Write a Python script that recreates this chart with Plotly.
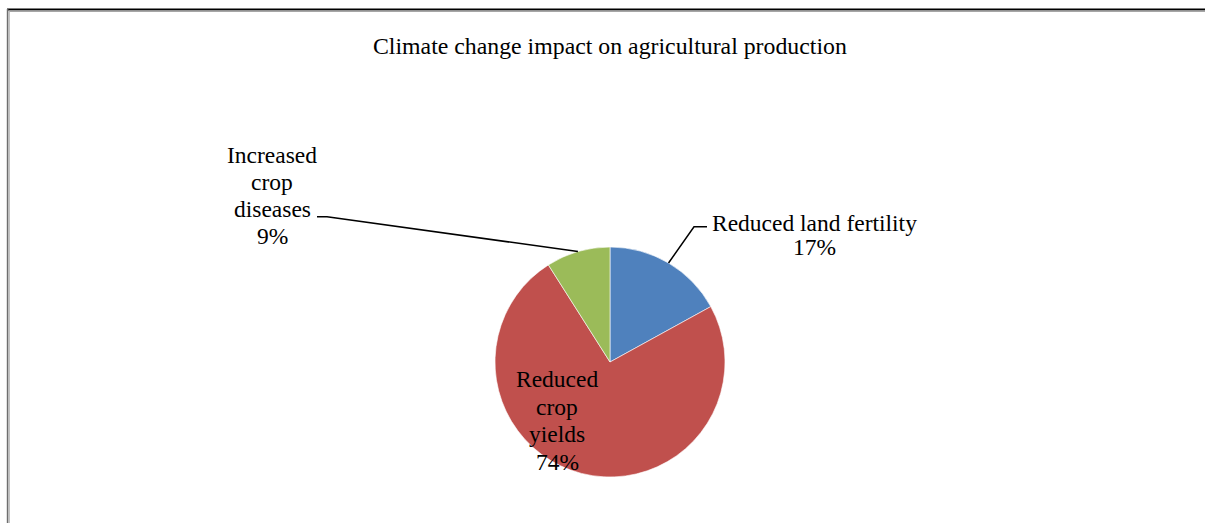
import math
import plotly.graph_objects as go

# Survey shares
categories = ["Reduced land fertility", "Reduced crop yields", "Increased crop diseases"]
shares = [17, 74, 9]
colors = ["#4F81BD", "#C0504D", "#9BBB59"]
# how each data label breaks onto lines
label_lines = [
    ["Reduced land fertility"],
    ["Reduced", "crop", "yields"],
    ["Increased", "crop", "diseases"],
]
title_text = "Climate change impact on agricultural production"

W, H = 1205, 523
CX, CY, R = 610, 362, 115
FONT = "Liberation Serif"


def px(x):
    return x / W


def py(y):
    return 1 - y / H


fig = go.Figure(
    go.Pie(
        labels=categories,
        values=shares,
        sort=False,
        direction="clockwise",
        rotation=0,
        marker=dict(colors=colors, line=dict(color="white", width=0.6)),
        textinfo="none",
        hoverinfo="label+percent",
        showlegend=False,
        domain=dict(x=[px(CX - R), px(CX + R)], y=[py(CY + R), py(CY - R)]),
    )
)

total = sum(shares)
pct = [f"{round(v * 100 / total)}%" for v in shares]

# label placement: (center x, first line y, line step)
placements = [
    (814, 222.5, 24.5),   # outside, right
    (557, 379, 27.7),     # inside the big slice
    (272, 154.5, 27.2),   # outside, left
]
# leader line elbows for outside labels (text-side end, elbow)
leaders = {0: ((707, 226.7), (694, 226.7)), 2: ((317, 216.7), (327, 216.7))}

annotations = []
shapes = []
cum = 0
for i, v in enumerate(shares):
    mid = (cum + v / 2) / total * 2 * math.pi
    cum += v
    x0, y0, step = placements[i]
    lines = label_lines[i] + [pct[i]]
    for k, t in enumerate(lines):
        annotations.append(dict(
            text=t, x=px(x0), y=py(y0 + k * step), xref="paper", yref="paper",
            xanchor="center", yanchor="middle", showarrow=False,
            font=dict(family=FONT, size=23.5, color="black"),
        ))
    if i in leaders:
        (ax, ay), (bx, by) = leaders[i]
        ex = CX + R * math.sin(mid)
        ey = CY - R * math.cos(mid)
        shapes.append(dict(
            type="path", xref="paper", yref="paper",
            path=f"M {px(ax)},{py(ay)} L {px(bx)},{py(by)} L {px(ex)},{py(ey)}",
            line=dict(color="black", width=1.5),
        ))

# chart frame (top and left edges with soft shadow)
frame = [
    (7, 9.5, W, 9.5, "black", 1.8),
    (9, 11.2, W, 11.2, "#a6a6a6", 1.4),
    (7.6, 9, 7.6, H, "#6e6e6e", 1.6),
    (9.2, 11, 9.2, H, "#b4b4b4", 1.2),
]
for x0, y0, x1, y1, c, w in frame:
    shapes.append(dict(type="line", xref="paper", yref="paper",
                       x0=px(x0), y0=py(y0), x1=px(x1), y1=py(y1),
                       line=dict(color=c, width=w)))

annotations.append(dict(
    text=title_text, x=px(610), y=py(46.5), xref="paper", yref="paper",
    xanchor="center", yanchor="middle", showarrow=False,
    font=dict(family=FONT, size=23.8, color="black"),
))

fig.update_layout(
    width=W, height=H,
    margin=dict(l=0, r=0, t=0, b=0),
    paper_bgcolor="white", plot_bgcolor="white",
    font=dict(family=FONT),
    annotations=annotations, shapes=shapes,
)

fig.write_html("out.html", config={"displayModeBar": False})
